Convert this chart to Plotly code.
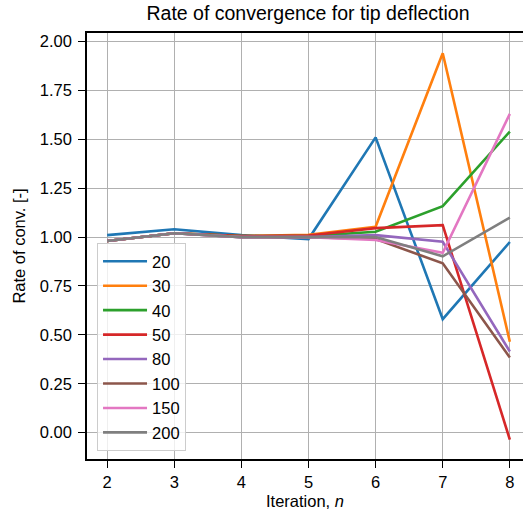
import plotly.graph_objects as go

# Iteration index and convergence rate per mesh size
iterations = [2, 3, 4, 5, 6, 7, 8]
mesh_labels = ["20", "30", "40", "50", "80", "100", "150", "200"]
rate_20 = [1.01, 1.04, 1.01, 0.99, 1.51, 0.58, 0.975]
rate_30 = [0.98, 1.02, 1.005, 1.012, 1.053, 1.94, 0.465]
rate_40 = [0.98, 1.02, 1.005, 1.005, 1.027, 1.158, 1.54]
rate_50 = [0.98, 1.02, 1.005, 1.008, 1.046, 1.061, -0.036]
rate_80 = [0.98, 1.02, 1.0, 1.0, 1.01, 0.976, 0.415]
rate_100 = [0.98, 1.02, 1.0, 1.0, 0.99, 0.866, 0.384]
rate_150 = [0.98, 1.02, 1.0, 1.0, 0.985, 0.92, 1.63]
rate_200 = [0.98, 1.02, 1.0, 1.0, 1.0, 0.902, 1.10]

series = [rate_20, rate_30, rate_40, rate_50, rate_80, rate_100, rate_150, rate_200]
colors = ["#1f77b4", "#ff7f0e", "#2ca02c", "#d62728",
          "#9467bd", "#8c564b", "#e377c2", "#7f7f7f"]

y_ticks = [0.0, 0.25, 0.5, 0.75, 1.0, 1.25, 1.5, 1.75, 2.0]
y_tick_text = [f"{v:.2f}" for v in y_ticks]

FONT = "Liberation Sans, Arial, Helvetica, sans-serif"

fig = go.Figure()
for label, values, color in zip(mesh_labels, series, colors):
    fig.add_trace(go.Scatter(
        x=iterations, y=values, mode="lines", name=label,
        line=dict(color=color, width=2.6),
    ))

W, H = 523, 520
left, top, bottom = 87, 33, 61

fig.update_layout(
    width=W, height=H,
    margin=dict(l=left, r=0, t=top, b=bottom),
    paper_bgcolor="white", plot_bgcolor="white",
    font=dict(family=FONT, size=16, color="black"),
    title=dict(
        text="Rate of convergence for tip deflection",
        font=dict(family=FONT, size=19.5, color="black"),
        x=308 / W, xref="container", xanchor="center",
        y=1 - 13 / H, yref="container", yanchor="middle",
    ),
    showlegend=True,
    legend=dict(
        x=0.023, y=0.507, xanchor="left", yanchor="top",
        bgcolor="rgba(255,255,255,0.8)",
        bordercolor="#cccccc", borderwidth=1,
        itemwidth=44,
        font=dict(family=FONT, size=16.5, color="black"),
    ),
    xaxis=dict(
        range=[1.7, 8.196],
        tickvals=iterations, ticktext=[str(v) for v in iterations],
        showgrid=True, gridcolor="#b0b0b0", gridwidth=1.1,
        zeroline=False,
        showline=True, linecolor="black", linewidth=1.5, mirror=True,
        ticks="outside", ticklen=7, tickwidth=1.3, tickcolor="black",
        tickfont=dict(family=FONT, size=16.5),
        title=dict(text="Iteration, <i>n</i>", font=dict(family=FONT, size=16.5),
                   standoff=6),
    ),
    yaxis=dict(
        range=[-0.135, 2.044],
        tickvals=y_ticks, ticktext=y_tick_text,
        showgrid=True, gridcolor="#b0b0b0", gridwidth=1.1,
        zeroline=False,
        showline=True, linecolor="black", linewidth=1.5, mirror=False,
        ticks="outside", ticklen=7, tickwidth=1.3, tickcolor="black",
        tickfont=dict(family=FONT, size=16.5),
        ticklabelstandoff=3,
        title=dict(text="Rate of conv. [-]", font=dict(family=FONT, size=16.5),
                   standoff=10),
    ),
)

fig.write_html("out.html")
